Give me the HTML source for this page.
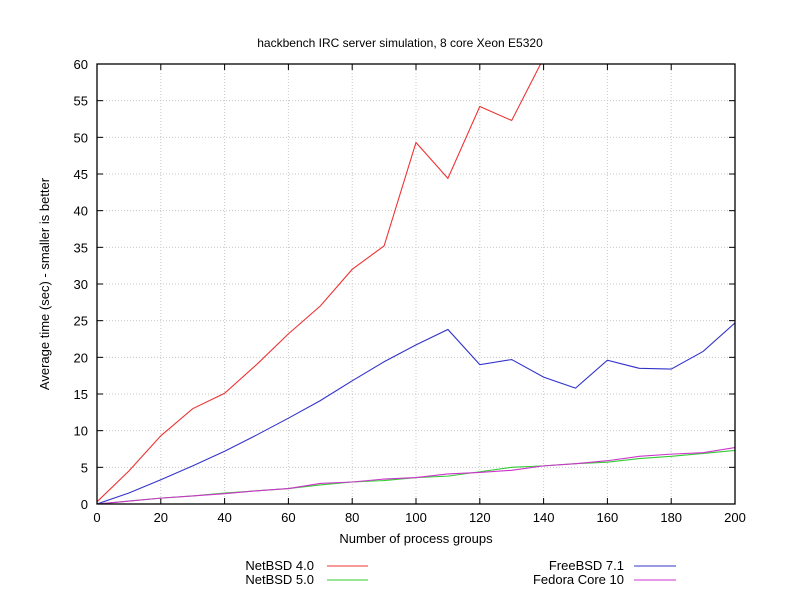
<!DOCTYPE html>
<html><head><meta charset="utf-8"><style>
body{margin:0;background:#fff}
svg{display:block;font-family:"Liberation Sans",sans-serif;font-size:13px}
</style></head><body>
<svg id="s" width="800" height="600" xmlns="http://www.w3.org/2000/svg">
<defs><clipPath id="c"><rect x="97" y="64" width="638" height="440"/></clipPath></defs>
<text x="400" y="47" text-anchor="middle" font-size="12">hackbench IRC server simulation, 8 core Xeon E5320</text>
<g id="grid" stroke="#c8c8c8" stroke-dasharray="1,2" stroke-width="1"></g>
<g id="ticks" stroke="#000" stroke-width="1"></g>
<g id="labels"></g>
<g id="series" clip-path="url(#c)" fill="none" stroke-width="1.1"></g>
<rect x="97" y="64" width="638" height="440" fill="none" stroke="#000" stroke-width="1.3"/>
<text transform="translate(49,284) rotate(-90)" text-anchor="middle">Average time (sec) - smaller is better</text>
<text x="416" y="543" text-anchor="middle">Number of process groups</text>
<text x="314" y="570" text-anchor="end">NetBSD 4.0</text>
<line x1="327" y1="566" x2="368" y2="566" stroke="#e33"/>
<text x="314" y="584" text-anchor="end">NetBSD 5.0</text>
<line x1="327" y1="580" x2="368" y2="580" stroke="#3c3"/>
<text x="624" y="570" text-anchor="end">FreeBSD 7.1</text>
<line x1="634" y1="566" x2="676" y2="566" stroke="#33c"/>
<text x="624" y="584" text-anchor="end">Fedora Core 10</text>
<line x1="634" y1="580" x2="676" y2="580" stroke="#c3c"/>
</svg>
<script>
var X=function(v){return 97+v*3.19},Y=function(v){return 504-v*7.3333};
var ns="http://www.w3.org/2000/svg";
function el(p,t,a,txt){var e=document.createElementNS(ns,t);for(var k in a)e.setAttribute(k,a[k]);if(txt!=null)e.textContent=txt;document.getElementById(p).appendChild(e);}
for(var v=0;v<=200;v+=20){var x=X(v);if(v>0&&v<200)el("grid","line",{x1:x,y1:64,x2:x,y2:504});
el("ticks","line",{x1:x,y1:504,x2:x,y2:498});el("ticks","line",{x1:x,y1:64,x2:x,y2:70});
el("labels","text",{x:x,y:522,"text-anchor":"middle"},v);}
for(var v=0;v<=60;v+=5){var y=Y(v);if(v>0&&v<60)el("grid","line",{x1:97,y1:y,x2:735,y2:y});
el("ticks","line",{x1:97,y1:y,x2:103,y2:y});el("ticks","line",{x1:735,y1:y,x2:729,y2:y});
el("labels","text",{x:88,y:y+5,"text-anchor":"end"},v);}
var S=[["#e33",[0.3,4.5,9.3,13,15.1,19,23.2,27,32,35.2,49.3,44.4,54.2,52.3,60.8,70]],
["#33c",[0,1.5,3.3,5.2,7.2,9.4,11.7,14.1,16.8,19.4,21.7,23.8,19,19.7,17.3,15.8,19.6,18.5,18.4,20.8,24.7]],
["#3c3",[0,0.4,0.8,1.1,1.5,1.8,2.1,2.6,3,3.2,3.6,3.8,4.4,5,5.2,5.5,5.7,6.2,6.5,6.9,7.3]],
["#c3c",[0,0.4,0.8,1.1,1.4,1.8,2.1,2.8,3,3.4,3.6,4.1,4.3,4.6,5.2,5.5,5.9,6.5,6.8,7,7.7]]];
S.forEach(function(s){el("series","polyline",{stroke:s[0],points:s[1].map(function(v,i){return X(i*10)+","+Y(v)}).join(" ")});});
</script>
</body></html>
